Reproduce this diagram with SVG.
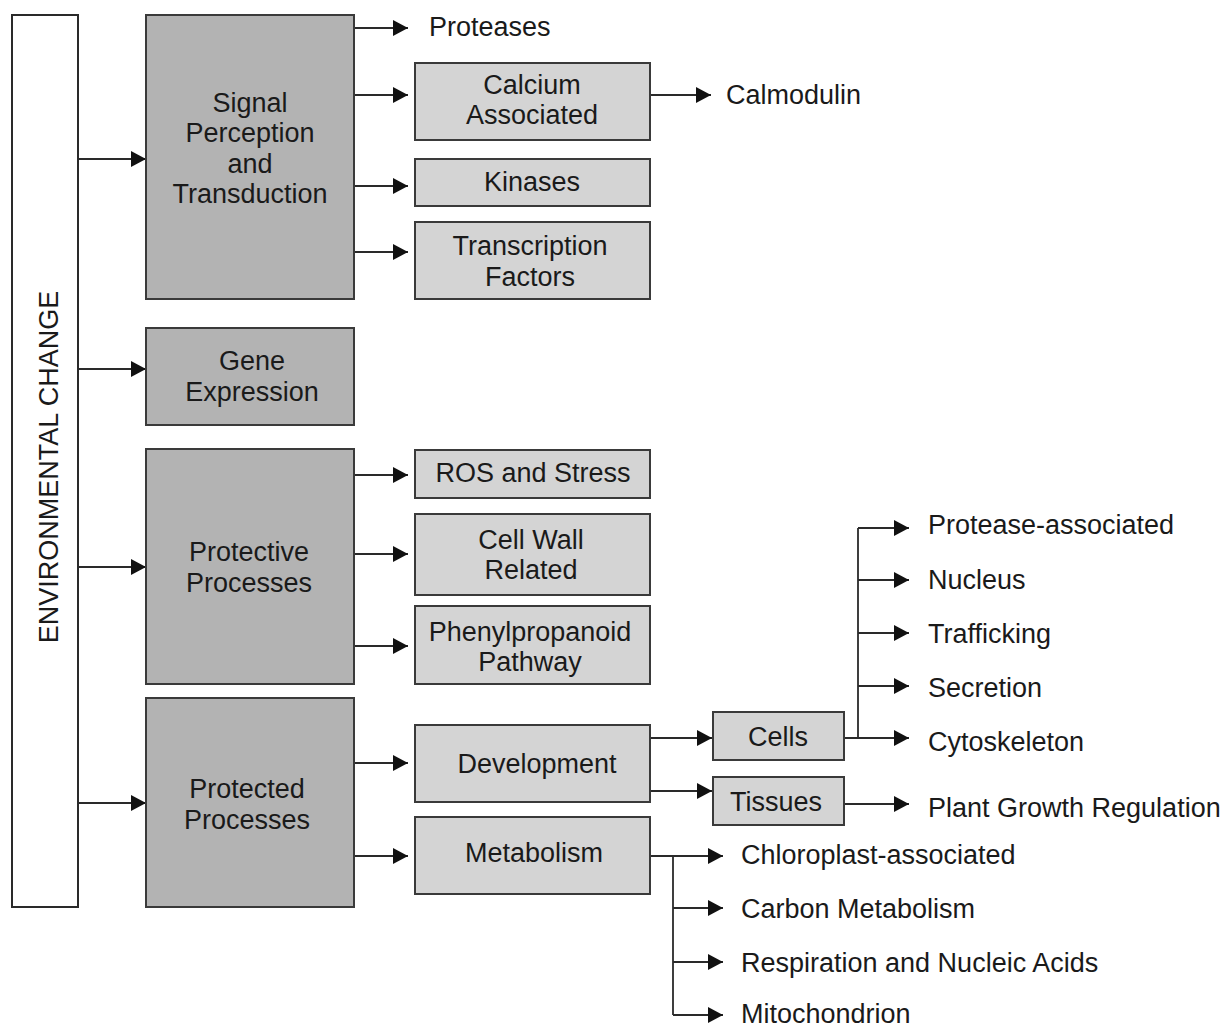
<svg xmlns="http://www.w3.org/2000/svg" width="1227" height="1027" viewBox="0 0 1227 1027">
<style>
text{font-family:"Liberation Sans",Arial,sans-serif;font-size:27px;fill:#1a1a1a}
.c{text-anchor:middle}
.main{fill:#b3b3b3;stroke:#3a3a3a;stroke-width:2}
.sub{fill:#d4d4d4;stroke:#3a3a3a;stroke-width:2}
.env{fill:#fff;stroke:#2a2a2a;stroke-width:2}
.ln{fill:none;stroke:#2a2a2a;stroke-width:1.8}
.ar{fill:none;stroke:#2a2a2a;stroke-width:1.8;marker-end:url(#ah)}
</style>
<defs>
<marker id="ah" markerWidth="15" markerHeight="16" refX="15" refY="8" orient="auto" markerUnits="userSpaceOnUse">
<path d="M0,0 L15,8 L0,16 Z" fill="#111"/>
</marker>
</defs>
<rect width="1227" height="1027" fill="#fff"/>
<g id="connectors">
<path class="ar" d="M78,159H146"/>
<path class="ar" d="M78,369H146"/>
<path class="ar" d="M78,567H146"/>
<path class="ar" d="M78,803H146"/>
<path class="ar" d="M354,28H408"/>
<path class="ar" d="M354,95H408"/>
<path class="ar" d="M354,186H408"/>
<path class="ar" d="M354,252H408"/>
<path class="ar" d="M650,95H711"/>
<path class="ar" d="M354,475H408"/>
<path class="ar" d="M354,554H408"/>
<path class="ar" d="M354,646H408"/>
<path class="ar" d="M354,763H408"/>
<path class="ar" d="M354,856H408"/>
<path class="ar" d="M650,738H712"/>
<path class="ar" d="M650,791H712"/>
<path class="ln" d="M858,738V528"/>
<path class="ar" d="M844,738H909"/>
<path class="ar" d="M858,528H909"/>
<path class="ar" d="M858,580H909"/>
<path class="ar" d="M858,633H909"/>
<path class="ar" d="M858,686H909"/>
<path class="ar" d="M844,804H909"/>
<path class="ln" d="M673,856V1015"/>
<path class="ar" d="M650,856H723"/>
<path class="ar" d="M673,908H723"/>
<path class="ar" d="M673,962H723"/>
<path class="ar" d="M673,1015H723"/>
</g>
<g id="env"><rect class="env" x="12" y="15" width="66" height="892"/><text class="c" transform="translate(58,467) rotate(-90)">ENVIRONMENTAL CHANGE</text></g>
<g id="signal"><rect class="main" x="146" y="15" width="208" height="284"/>
<text class="c" x="250" y="112">Signal</text><text class="c" x="250" y="142">Perception</text><text class="c" x="250" y="173">and</text><text class="c" x="250" y="203">Transduction</text></g>
<g id="gene"><rect class="main" x="146" y="328" width="208" height="97"/>
<text class="c" x="252" y="370">Gene</text><text class="c" x="252" y="401">Expression</text></g>
<g id="protective"><rect class="main" x="146" y="449" width="208" height="235"/>
<text class="c" x="249" y="561">Protective</text><text class="c" x="249" y="592">Processes</text></g>
<g id="protected"><rect class="main" x="146" y="698" width="208" height="209"/>
<text class="c" x="247" y="798">Protected</text><text class="c" x="247" y="829">Processes</text></g>
<g id="proteases"><text x="429" y="36">Proteases</text></g>
<g id="calcium"><rect class="sub" x="415" y="63" width="235" height="77"/>
<text class="c" x="532" y="94">Calcium</text><text class="c" x="532" y="124">Associated</text></g>
<g id="calmodulin"><text x="726" y="104">Calmodulin</text></g>
<g id="kinases"><rect class="sub" x="415" y="159" width="235" height="47"/><text class="c" x="532" y="191">Kinases</text></g>
<g id="tf"><rect class="sub" x="415" y="222" width="235" height="77"/>
<text class="c" x="530" y="255">Transcription</text><text class="c" x="530" y="286">Factors</text></g>
<g id="ros"><rect class="sub" x="415" y="450" width="235" height="48"/><text class="c" x="533" y="482">ROS and Stress</text></g>
<g id="cellwall"><rect class="sub" x="415" y="514" width="235" height="81"/>
<text class="c" x="531" y="549">Cell Wall</text><text class="c" x="531" y="579">Related</text></g>
<g id="phenyl"><rect class="sub" x="415" y="606" width="235" height="78"/>
<text class="c" x="530" y="641">Phenylpropanoid</text><text class="c" x="530" y="671">Pathway</text></g>
<g id="development"><rect class="sub" x="415" y="725" width="235" height="77"/><text class="c" x="537" y="773">Development</text></g>
<g id="metabolism"><rect class="sub" x="415" y="817" width="235" height="77"/><text class="c" x="534" y="862">Metabolism</text></g>
<g id="cells"><rect class="sub" x="713" y="712" width="131" height="48"/><text class="c" x="778" y="746">Cells</text></g>
<g id="tissues"><rect class="sub" x="713" y="777" width="131" height="48"/><text class="c" x="776" y="811">Tissues</text></g>
<g id="leaf-labels">
<text x="928" y="534">Protease-associated</text>
<text x="928" y="589">Nucleus</text>
<text x="928" y="643">Trafficking</text>
<text x="928" y="697">Secretion</text>
<text x="928" y="751">Cytoskeleton</text>
<text x="928" y="817">Plant Growth Regulation</text>
<text x="741" y="864">Chloroplast-associated</text>
<text x="741" y="918">Carbon Metabolism</text>
<text x="741" y="972">Respiration and Nucleic Acids</text>
<text x="741" y="1023">Mitochondrion</text>
</g>
</svg>
